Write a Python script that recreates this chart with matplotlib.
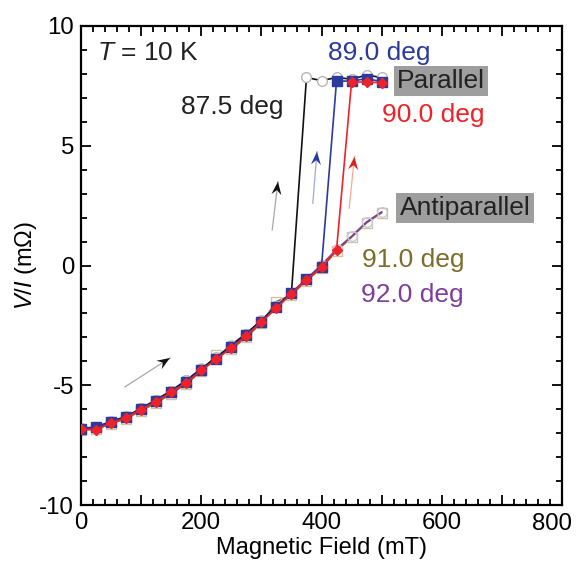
import matplotlib
matplotlib.use("Agg")
import numpy as np
import matplotlib.pyplot as plt
from matplotlib.ticker import MultipleLocator, FuncFormatter
from matplotlib.patches import Polygon
from matplotlib.transforms import IdentityTransform

plt.rcParams['font.family'] = ['Liberation Sans', 'DejaVu Sans']
plt.rcParams['mathtext.fontset'] = 'custom'
plt.rcParams['mathtext.rm'] = 'Liberation Sans'
plt.rcParams['mathtext.it'] = 'Liberation Sans:italic'
plt.rcParams['axes.unicode_minus'] = False

# ---- data ----
field = [0, 25, 50, 75, 100, 125, 150, 175, 200, 225, 250, 275, 300, 325, 350,
         375, 400, 425, 450, 475, 500]

v875 = [-6.82, -6.76, -6.52, -6.32, -5.97, -5.62, -5.24, -4.80, -4.32, -3.84, -3.36, -2.84,
        -2.30, -1.70, -1.16, 7.85, 7.72, 7.85, 7.78, 7.95, 7.85]
v890 = [-6.82, -6.76, -6.54, -6.34, -5.98, -5.66, -5.28, -4.86, -4.36, -3.90, -3.40, -2.90,
        -2.34, -1.74, -1.16, -0.58, -0.05, 7.70, 7.70, 7.80, 7.68]
v900 = [-6.84, -6.86, -6.58, -6.36, -6.02, -5.68, -5.30, -4.90, -4.38, -3.92, -3.44, -2.94,
        -2.36, -1.78, -1.18, -0.60, -0.08, 0.65, 7.66, 7.66, 7.63]
v910 = [-6.86, -6.84, -6.60, -6.40, -6.06, -5.74, -5.36, -4.94, -4.42, -3.74, -3.50, -3.00,
        -2.40, -1.51, -1.22, -0.64, -0.10, 0.60, 1.18, 1.78, 2.20]
v920 = [-6.80, -6.74, -6.50, -6.30, -5.96, -5.60, -5.22, -4.80, -4.30, -3.86, -3.30, -2.84,
        -2.28, -1.70, -1.14, -0.55, 0.02, 0.68, 1.22, 1.82, 2.24]

labels = ['87.5 deg', '89.0 deg', '90.0 deg', '91.0 deg', '92.0 deg']
x_ticklabels = ['0', '200', '400', '600', '800']

c_black = '#111111'
c_blue = '#2B3A9C'
c_red = '#EE2228'
c_olive = '#7C6D2A'
c_purple = '#7E3F9C'

fig = plt.figure(figsize=(5.78, 5.74), dpi=100)
ax = fig.add_axes([81/578, 1-505/574, (562-81)/578, (505-26)/574])

# series
ax.plot(field, v910, '-', color=c_olive, lw=1.2, marker='s', ms=7, mfc='none',
        mec='#CFC3A8', mew=1.0, zorder=2)
ax.plot(field, v920, '-', color=c_purple, lw=1.2, marker='o', ms=7, mfc='none',
        mec='#C8C8D8', mew=1.0, zorder=2.2)
ax.plot(field, v875, '-', color=c_black, lw=1.2, marker='o', ms=7, mfc='white',
        mec='#B8B8B8', mew=1.0, zorder=2.4)
ax.plot(field, v890, '-', color=c_blue, lw=1.2, marker='s', ms=6.5, mfc=c_blue,
        mec=c_blue, zorder=3)
ax.plot(field, v900, '-', color=c_red, lw=1.2, marker='D', ms=5.5, mfc=c_red,
        mec=c_red, zorder=4)

# axes
ax.set_xlim(0, 800)
ax.set_ylim(-10, 10)
ax.xaxis.set_major_locator(MultipleLocator(100))
ax.xaxis.set_minor_locator(MultipleLocator(20))
lab_map = {0: x_ticklabels[0], 200: x_ticklabels[1], 400: x_ticklabels[2], 600: x_ticklabels[3]}
ax.xaxis.set_major_formatter(FuncFormatter(lambda v, p: lab_map.get(int(round(v)), '')))
ax.yaxis.set_major_locator(MultipleLocator(5))
ax.yaxis.set_minor_locator(MultipleLocator(1))
ax.tick_params(which='both', direction='in', top=True, right=True, width=1.3, labelsize=17.3)
ax.tick_params(which='major', length=7, pad=5)
ax.tick_params(which='minor', length=4)
for s in ax.spines.values():
    s.set_linewidth(1.6)

# last x tick label drawn slightly inward, as in the reference
ax.annotate(x_ticklabels[4], xy=(784, 0), xycoords=('data', 'axes fraction'),
            xytext=(0, -5.5), textcoords='offset points', ha='center', va='top',
            fontsize=17.3)

ax.set_xlabel('Magnetic Field (mT)', fontsize=17, labelpad=2)
ax.set_ylabel('$V$/$I$ (m\u03A9)', fontsize=17, labelpad=0)

# annotations
fs = 19
ax.text(26, 8.87, '$T$ = 10 K', fontsize=fs, va='center', ha='left', color='#222222')
ax.text(410, 8.87, labels[1], fontsize=fs, va='center', ha='left', color=c_blue)
ax.text(167, 6.63, labels[0], fontsize=fs, va='center', ha='left', color='#222222')
ax.text(500, 6.28, labels[2], fontsize=fs, va='center', ha='left', color=c_red)
ax.text(468, 0.23, labels[3], fontsize=fs, va='center', ha='left', color=c_olive)
ax.text(466, -1.23, labels[4], fontsize=fs, va='center', ha='left', color=c_purple)
ax.text(526, 7.70, 'Parallel', fontsize=fs, va='center', ha='left', color='#222222',
        bbox=dict(boxstyle='square,pad=0.12', fc='#9E9E9E', ec='none'))
ax.text(530, 2.40, 'Antiparallel', fontsize=fs, va='center', ha='left', color='#222222',
        bbox=dict(boxstyle='square,pad=0.12', fc='#9E9E9E', ec='none'))

# arrows (thin light shaft, dark stealth head)
arrows = [((73, -5.07), (148, -3.86), '#A8A8A8', '#111111'),
          ((318, 1.48), (327.6, 3.50), '#A8A8A8', '#111111'),
          ((385.5, 2.6), (392.5, 4.75), '#A0A8DD', c_blue),
          ((446, 2.39), (454.8, 4.54), '#F5A898', '#D82020')]
for (x0, y0), (x1, y1), lc, hc in arrows:
    p0 = ax.transData.transform((x0, y0))
    p1 = ax.transData.transform((x1, y1))
    d = p1 - p0
    d = d / np.hypot(*d)
    n = np.array([-d[1], d[0]])
    L, W = 13.0, 5.0
    base = p1 - L * d
    ax.plot([x0, x1], [y0, y1], '-', color=lc, lw=0.9, zorder=5)
    pts = [p1, base + W * n, p1 - 0.65 * L * d, base - W * n]
    ax.add_patch(Polygon(pts, closed=True, fc=hc, ec='none',
                         transform=IdentityTransform(), zorder=6))

fig.savefig('out.png', dpi=100)
